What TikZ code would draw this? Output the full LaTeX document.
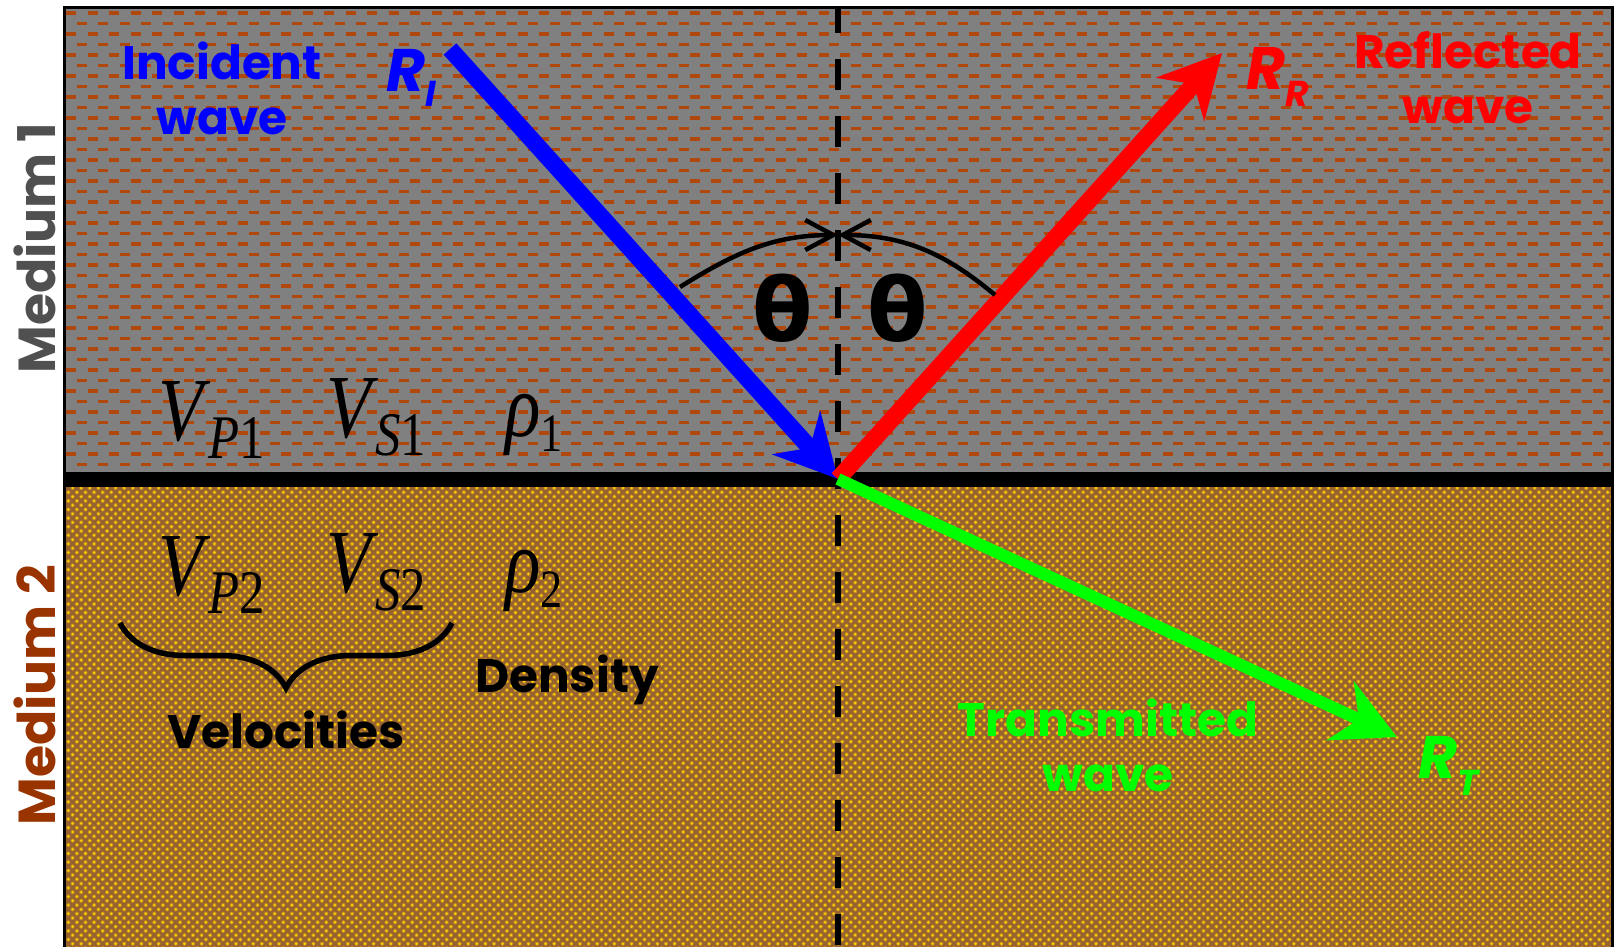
\documentclass[tikz,border=0pt]{standalone}
\usepackage{fontspec}
\setmainfont{Liberation Serif}
\newfontfamily\comic{Poppins}
\newfontfamily\thetafont{DejaVu Sans}
\usepackage{xcolor}
\usetikzlibrary{arrows.meta, decorations.pathreplacing}

\definecolor{rockgray}{HTML}{808080}
\definecolor{dashbrown}{HTML}{B0480E}
\definecolor{sandbrown}{HTML}{966230}
\definecolor{dotglow}{HTML}{C08A1E}
\definecolor{dotcore}{HTML}{FFD200}
\definecolor{mediumone}{HTML}{505050}
\definecolor{mediumtwo}{HTML}{993300}
\definecolor{wavegreen}{HTML}{00FF00}

\newcommand{\subtext}[3]{\raisebox{-#3}{\fontsize{#2}{#2}\selectfont #1}}
\newcommand{\narrow}[1]{\scalebox{0.82}[1]{#1}}

\begin{document}
\begin{tikzpicture}[x=1pt, y=-1pt,
    wavelabel/.style={font=\comic\bfseries\fontsize{47}{55}\selectfont, align=center, inner sep=0pt},
    mediumlabel/.style={font=\comic\bfseries\fontsize{52}{52}\selectfont, rotate=90, inner sep=0pt},
    raylabel/.style={font=\comic\bfseries\itshape\fontsize{60}{60}\selectfont, anchor=base west, inner sep=0pt},
    paramlabel/.style={font=\fontsize{90}{90}\selectfont, anchor=base west, inner sep=0pt},
    thetalabel/.style={font=\thetafont\bfseries\fontsize{88}{88}\selectfont, inner sep=0pt},
    wavearrow/.style={-{Stealth[length=62pt, width=64pt, inset=20pt]}, line width=17pt},
    anglearc/.style={-{Straight Barb[length=28pt, width=30pt]}, line width=4.5pt},
    dashrow/.style={dashbrown, line width=3.5pt, dash pattern=on 10pt off 11.5pt},
    dotrow/.style={line cap=round, dash pattern=on 0pt off 8.6pt}
]
\useasboundingbox (0,0) rectangle (1615,947);

% media
\fill[rockgray] (64,8) rectangle (1612,479);
\fill[sandbrown] (64,479) rectangle (1612,947);
\foreach \r in {0,...,43} {
    \pgfmathsetmacro\yy{13+10.5*\r}
    \pgfmathsetmacro\ph{mod(\r,2)*10.75}
    \draw[dashrow, dash phase={\ph pt}] (66,\yy) -- (1610,\yy);
}
\begin{scope}
    \clip (64,486) rectangle (1612,947);
    \foreach \r in {0,...,108} {
        \pgfmathsetmacro\yy{488+4.3*\r}
        \pgfmathsetmacro\ph{mod(\r,2)*4.3}
        \draw[dotrow, dotglow, line width=4.2pt, dash phase={\ph pt}] (64,\yy) -- (1612,\yy);
        \draw[dotrow, dotcore, line width=2.6pt, dash phase={\ph pt}] (64,\yy) -- (1612,\yy);
    }
\end{scope}
\draw[line width=15pt] (64,479) -- (1612,479);
\draw[line width=3pt] (64,947) -- (64,8) -- (1612,8) -- (1612,947);
\draw[line width=6.5pt, dash pattern=on 31pt off 26pt, dash phase=6pt] (838,8) -- (838,947);

% rays
\coordinate (hit) at (838,479);
\coordinate (inc) at (450,49);
\coordinate (refl) at (1222,53);
\coordinate (trans) at (1397,737);
\draw[wavearrow, blue] (inc) -- (hit);
\draw[wavearrow, red] (hit) -- (refl);
\draw[wavearrow, wavegreen, line width=12pt] (hit) -- (trans);

% angles
\coordinate (apex) at (838,235);
\coordinate (arcleft) at (680,287);
\coordinate (arcright) at (995,295);
\draw[anglearc] (arcleft) to[out=32, in=180] (apex);
\draw[anglearc] (arcright) to[out=140, in=0] (apex);
\node[thetalabel] (thetaleft) at (783,308) {θ};
\node[thetalabel] (thetaright) at (898,308) {θ};

% labels
\node[wavelabel, blue] (inclabel) at (222,88) {Incident\\wave};
\node[wavelabel, red] (refllabel) at (1468,78) {Reflected\\wave};
\node[wavelabel, wavegreen] (translabel) at (1108,745) {Transmitted\\wave};
\node[raylabel, blue] (ri) at (386,92) {R\subtext{I}{36pt}{15pt}};
\node[raylabel, red] (rr) at (1246,90) {R\subtext{R}{36pt}{17pt}};
\node[raylabel, wavegreen] (rt) at (1418,778) {R\subtext{T}{36pt}{17pt}};
\node[mediumlabel, mediumone] (mediumonelabel) at (35,248) {Medium 1};
\node[mediumlabel, mediumtwo] (mediumtwolabel) at (35,695) {Medium 2};

% parameters
\node[paramlabel] (vp1) at (158,440) {\narrow{\textit{V}\kern-2pt\subtext{\textit{P}1}{62pt}{18pt}}};
\node[paramlabel] (vs1) at (326,437) {\narrow{\textit{V}\kern-4pt\subtext{\textit{S}1}{62pt}{18pt}}};
\node[paramlabel] (rho1) at (505,436) {\narrow{\textit{ρ}\subtext{1}{54pt}{15pt}}};
\node[paramlabel] (vp2) at (158,595) {\narrow{\textit{V}\kern-2pt\subtext{\textit{P}2}{62pt}{18pt}}};
\node[paramlabel] (vs2) at (326,592) {\narrow{\textit{V}\kern-4pt\subtext{\textit{S}2}{62pt}{18pt}}};
\node[paramlabel] (rho2) at (505,592) {\narrow{\textit{ρ}\subtext{2}{54pt}{15pt}}};
\coordinate (braceleft) at (120,623);
\coordinate (braceright) at (452,623);
\draw[line width=5.5pt, decorate, decoration={brace, amplitude=65pt, mirror}] (braceleft) -- (braceright);
\node[wavelabel, anchor=base] (vellabel) at (286,748) {Velocities};
\node[wavelabel, anchor=base] (denslabel) at (567,692) {Density};
\end{tikzpicture}
\end{document}
